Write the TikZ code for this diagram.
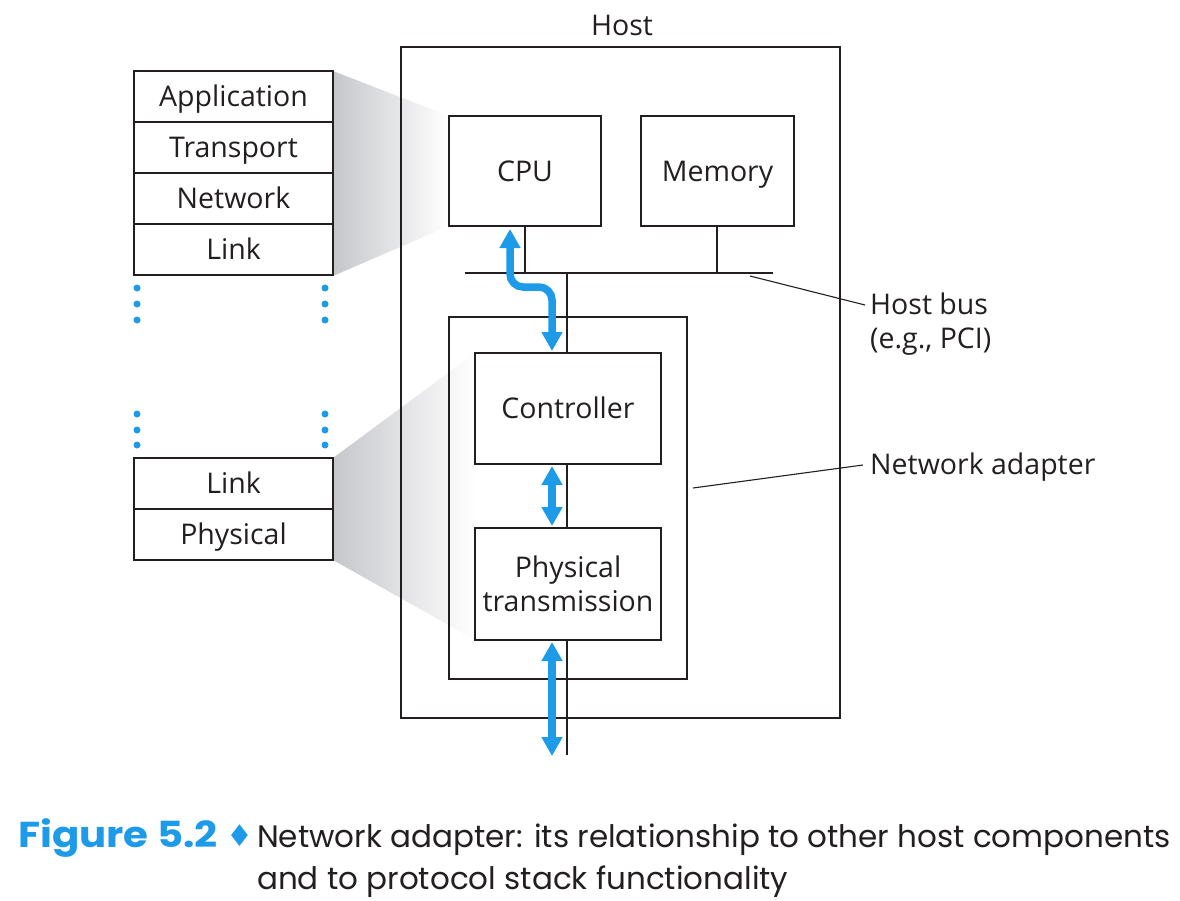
\documentclass[tikz,border=0pt]{standalone}
\usepackage{fontspec}
\setmainfont{Open Sans}
\newfontfamily\capfont{Poppins}
\newfontfamily\symfont{DejaVu Sans}
\usetikzlibrary{arrows.meta}
\definecolor{netblue}{RGB}{29,155,232}
\definecolor{ink}{RGB}{35,31,32}
\definecolor{wedge}{RGB}{198,199,203}
\begin{document}
\begin{tikzpicture}[x=1pt,y=-1pt,
  lbl/.style={text=ink, inner sep=0pt, font=\fontsize{28.5}{34}\selectfont},
  box/.style={lbl, draw=ink, line width=2pt, anchor=north west, outer sep=0pt},
  whitebox/.style={box, fill=white, align=center},
  oneline/.style={text height=20pt, text depth=0pt},
  layer/.style={whitebox, oneline, minimum width=199pt, minimum height=51pt},
  wire/.style={draw=ink, line width=2pt},
  bus/.style={draw=ink, line width=2.6pt},
  callout/.style={draw=ink, line width=1.1pt},
  flow/.style={draw=netblue, line width=7.5pt,
    {Triangle[width=20pt,length=19pt]}-{Triangle[width=20pt,length=19pt]}},
  dot/.style={circle, fill=netblue, inner sep=0pt, minimum size=7pt},
  shadewedge/.style={left color=wedge, right color=white}]
\useasboundingbox (0,0) rectangle (1180,900);

% Wedges linking stack layers to the hardware that implements them
\shade[shadewedge] (333,71) -- (449,116) -- (449,226) -- (333,276) -- cycle;
\shade[shadewedge] (333,458) -- (475,353) -- (475,640) -- (333,560) -- cycle;

% Host and adapter outlines
\node[box, minimum width=439pt, minimum height=671pt] (host) at (401,47) {};
\node[lbl] (hostlbl) at (622,25) {Host};
\node[box, minimum width=238pt, minimum height=362pt] (adapter) at (449,317) {};

% Host bus and the vertical path to the adapter
\coordinate (busL) at (465,273);
\coordinate (busR) at (773,273);
\coordinate (cpuTap) at (525,273);
\coordinate (memTap) at (717,273);
\coordinate (busTap) at (567,273);
\coordinate (lineEnd) at (567,755);
\path[bus] (busL) -- (busR);
\path[wire] (busTap) -- (lineEnd);

% Components
\node[whitebox, oneline, minimum width=152pt, minimum height=110pt] (cpu) at (449,116) {CPU};
\node[whitebox, oneline, minimum width=153pt, minimum height=110pt] (mem) at (641,116) {Memory};
\path[wire] (cpu.south -| cpuTap) -- (cpuTap);
\path[wire] (mem.south -| memTap) -- (memTap);
\node[whitebox, oneline, minimum width=186pt, minimum height=111pt] (ctrl) at (475,353) {Controller};
\node[whitebox, minimum width=186pt, minimum height=112pt] (phy) at (475,528)
  {Physical\\transmission};

% Protocol stack, upper part
\node[layer] (app) at (134,71) {Application};
\node[layer] (trans) at (app.south west) {Transport};
\node[layer] (net) at (trans.south west) {Network};
\node[layer] (link1) at (net.south west) {Link};

% Protocol stack, lower part
\node[layer] (link2) at (134,458) {Link};
\node[layer] (phys) at (link2.south west) {Physical};

% Elision dots
\foreach \y [count=\i] in {288,304,320,414,430,445} {
  \node[dot] (dl\i) at (137,\y) {};
  \node[dot] (dr\i) at (325,\y) {};
}

% Data flow
\coordinate (f1a) at (510,229);
\coordinate (f1b) at (510,287);
\coordinate (f1c) at (552,287);
\coordinate (f1d) at (552,351);
\path[flow, rounded corners=13pt] (f1a) -- (f1b) -- (f1c) -- (f1d);
\coordinate (f2a) at (552,466);
\coordinate (f2b) at (552,526);
\path[flow] (f2a) -- (f2b);
\coordinate (f3a) at (552,642);
\coordinate (f3b) at (552,756);
\path[flow] (f3a) -- (f3b);

% Callouts
\node[lbl, anchor=west, align=left] (buslbl) at (870,324) {Host bus\\(e.g., PCI)};
\node[lbl, anchor=west] (adlbl) at (870,467) {Network adapter};
\coordinate (busPt) at (750,276);
\coordinate (busEnd) at (865,305);
\coordinate (adPt) at (693,488);
\coordinate (adEnd) at (863,465);
\path[callout] (busPt) -- (busEnd);
\path[callout] (adPt) -- (adEnd);

% Caption
\node[anchor=base west, inner sep=0pt, text=netblue,
  font=\capfont\bfseries\fontsize{36}{40}\selectfont]
  (fignum) at (18,847) {\scalebox{1.12}[1]{Figure 5.2}};
\node[anchor=base, inner sep=0pt, text=netblue, font=\symfont\fontsize{30}{36}\selectfont]
  (diam) at (240,846) {♦};
\node[anchor=base west, inner sep=0pt, text=ink,
  font=\capfont\fontsize{31}{43}\selectfont] (captext) at (257,847)
  {Network adapter: its relationship to other host components};
\node[anchor=base west, inner sep=0pt, text=ink,
  font=\capfont\fontsize{31}{43}\selectfont] (captext2) at (257,889)
  {and to protocol stack functionality};
\end{tikzpicture}
\end{document}
